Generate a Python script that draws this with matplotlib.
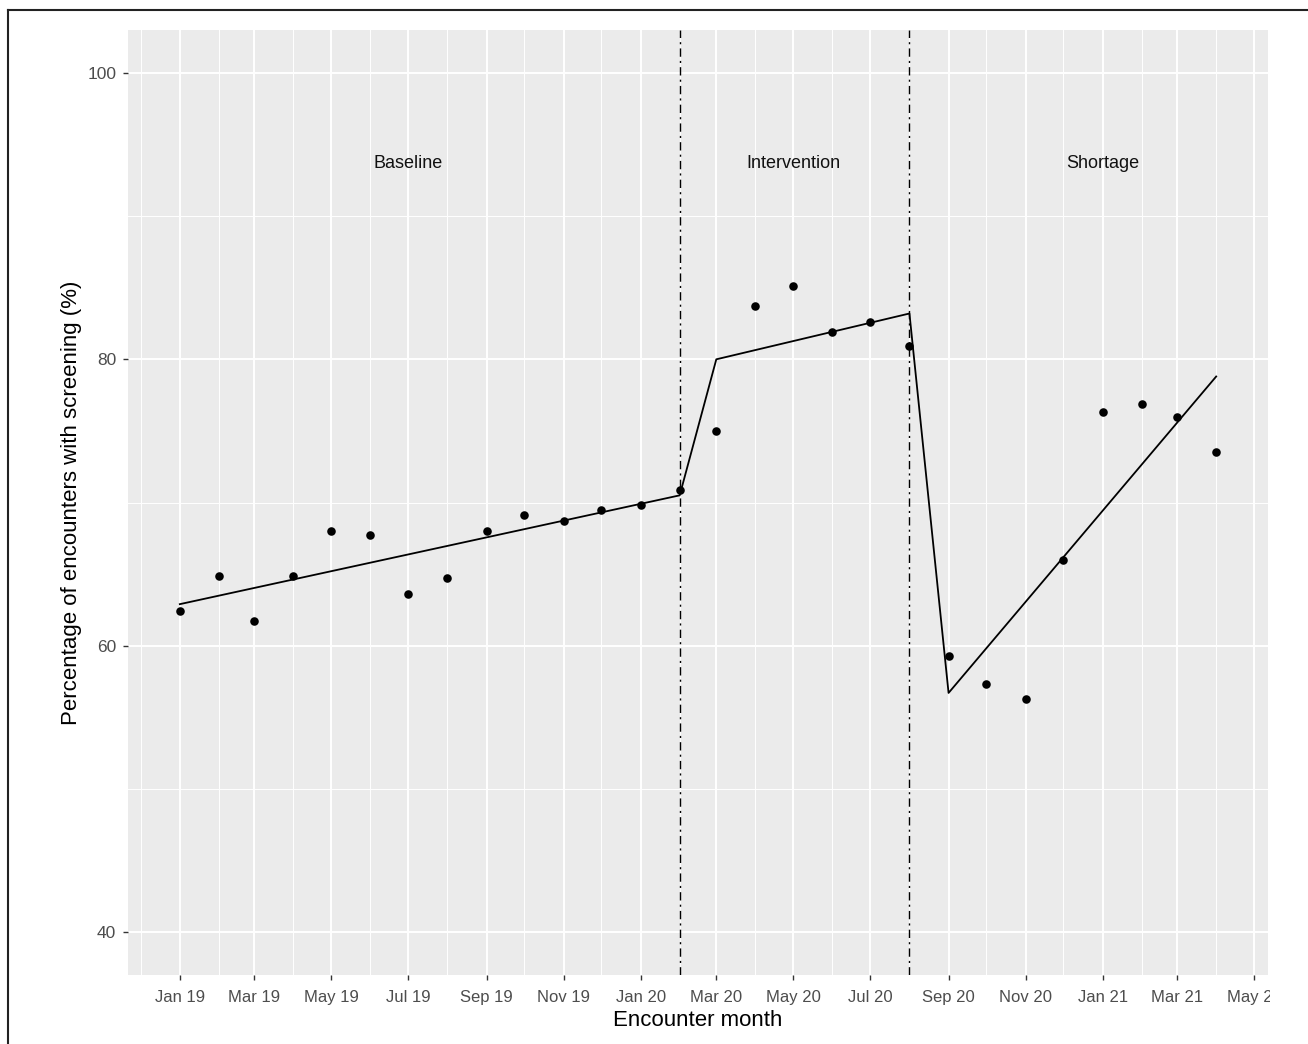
import datetime as dt
import matplotlib
matplotlib.use("Agg")
import matplotlib.pyplot as plt
import matplotlib.dates as mdates
from matplotlib.lines import Line2D
from matplotlib.transforms import Bbox, TransformedBbox

plt.rcParams['font.family'] = ['Liberation Sans', 'DejaVu Sans']

# monthly screening percentages, Jan 2019 - Apr 2021
months = [dt.datetime(2019 + (m // 12), m % 12 + 1, 1) for m in range(28)]
pct_screened = [62.4, 64.9, 61.7, 64.9, 68.0, 67.7, 63.6, 64.7, 68.0, 69.1,
                68.7, 69.5, 69.8, 70.9, 75.0, 83.7, 85.1, 81.9, 82.6, 80.9,
                59.3, 57.3, 56.3, 66.0, 76.3, 76.9, 76.0, 73.5]

# segmented regression fit (vertices of the fitted line)
fit_dates = [dt.datetime(2019, 1, 1), dt.datetime(2020, 2, 1), dt.datetime(2020, 3, 1),
             dt.datetime(2020, 8, 1), dt.datetime(2020, 9, 1), dt.datetime(2021, 4, 1)]
fit_values = [62.9, 70.5, 80.0, 83.2, 56.7, 78.8]

# phase boundaries and labels
cut_dates = [dt.datetime(2020, 2, 1), dt.datetime(2020, 8, 1)]
phase_names = ['Baseline', 'Intervention', 'Shortage']
phase_dates = [dt.datetime(2019, 7, 1), dt.datetime(2020, 5, 1), dt.datetime(2021, 1, 1)]
phase_y = 93.7

fig = plt.figure(figsize=(13.08, 10.44), dpi=100)
ax = fig.add_axes([128 / 1308, 1 - 975 / 1044, 1140 / 1308, 945 / 1044])
ax.set_facecolor('#EBEBEB')
for s in ax.spines.values():
    s.set_visible(False)

ax.plot(fit_dates, fit_values, color='black', lw=1.3, zorder=3)
ax.scatter(months, pct_screened, s=38, color='black', zorder=4, linewidths=0)
for d in cut_dates:
    ax.axvline(d, color='black', lw=1.0, linestyle=(0, (6, 3, 1.5, 3)), zorder=2)
for name, d in zip(phase_names, phase_dates):
    ax.text(d, phase_y, name, ha='center', va='center', fontsize=13, color='#111111')

span = months[-1] - months[0]
pad = span * 0.05
ax.set_xlim(months[0] - pad, months[-1] + pad)
ax.set_ylim(37, 103)

ax.xaxis.set_major_locator(mdates.MonthLocator(bymonth=[1, 3, 5, 7, 9, 11]))
ax.xaxis.set_minor_locator(mdates.MonthLocator(bymonth=[2, 4, 6, 8, 10, 12]))
ax.xaxis.set_major_formatter(mdates.DateFormatter('%b %y'))
ax.set_yticks([40, 60, 80, 100])
ax.set_yticks([50, 70, 90], minor=True)

ax.grid(which='major', color='white', lw=1.4)
ax.grid(which='minor', color='white', lw=0.7)
ax.set_axisbelow(True)
ax.tick_params(which='major', length=3.5, width=1, color='#333333',
               labelcolor='#4D4D4D', labelsize=12, pad=5)
ax.tick_params(axis='y', labelsize=12.5)
ax.tick_params(axis='x', pad=7)
ax.tick_params(which='minor', length=0)

ax.set_xlabel('Encounter month', fontsize=16, labelpad=4)
ax.set_ylabel('Percentage of encounters with screening (%)', fontsize=16, labelpad=4)

# frame lines of the original figure (top and left only)
fig.add_artist(Line2D([8 / 1308, 1.0], [1 - 10 / 1044] * 2, color='#222222', lw=1.5,
                      transform=fig.transFigure))
fig.add_artist(Line2D([8 / 1308] * 2, [0, 1 - 10 / 1044], color='#222222', lw=1.5,
                      transform=fig.transFigure))

fig.canvas.draw()
clip = TransformedBbox(Bbox([[0, 0], [1270 / 1308, 1]]), fig.transFigure)
for lab in ax.get_xticklabels():
    lab.set_clip_box(clip)
    lab.set_clip_on(True)

fig.savefig('out.png', dpi=100)
